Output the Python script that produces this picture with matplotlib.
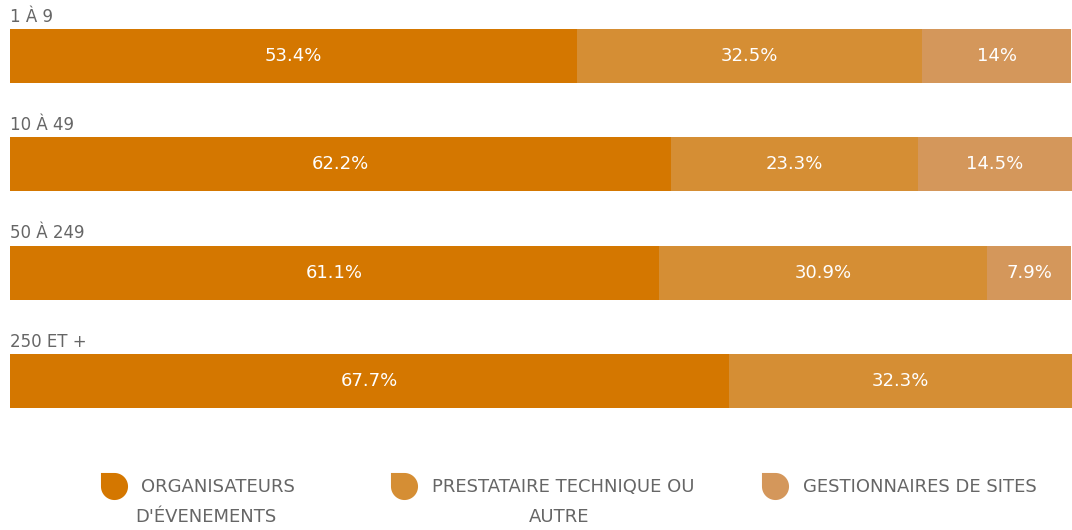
import numpy as np
import matplotlib
matplotlib.use("Agg")
import matplotlib.pyplot as plt
from matplotlib.path import Path

# Data
categories = ["1 À 9", "10 À 49", "50 À 249", "250 ET +"]
series_names = ["ORGANISATEURS\nD'ÉVENEMENTS", "PRESTATAIRE TECHNIQUE OU\nAUTRE", "GESTIONNAIRES DE SITES"]
organisateurs = [53.4, 62.2, 61.1, 67.7]
prestataires = [32.5, 23.3, 30.9, 32.3]
gestionnaires = [14.0, 14.5, 7.9, 0.0]
value_labels = [
    ["53.4%", "62.2%", "61.1%", "67.7%"],
    ["32.5%", "23.3%", "30.9%", "32.3%"],
    ["14%", "14.5%", "7.9%", ""],
]

colors = ["#D47700", "#D58E34", "#D4975B"]
text_gray = "#666666"

plt.rcParams["font.family"] = ["DejaVu Sans"]

W, H = 1072, 530
fig = plt.figure(figsize=(W / 100, H / 100), dpi=100)

# bar area: x 10..1072 px, y 29..408 px
ax = fig.add_axes([10 / W, (H - 408) / H, 1062 / W, 379 / H])
ax.set_xlim(0, 100)
ax.set_ylim(3.25, -0.25)
ax.axis("off")

y = np.arange(len(categories))
series = [organisateurs, prestataires, gestionnaires]
left = np.zeros(len(categories))
for s, vals in enumerate(series):
    vals = np.array(vals)
    ax.barh(y, vals, left=left, height=0.5, color=colors[s], linewidth=0)
    for i, v in enumerate(vals):
        if v > 0:
            ax.text(left[i] + v / 2, y[i], value_labels[s][i], ha="center", va="center",
                    color="white", fontsize=13)
    left += vals

for i, cat in enumerate(categories):
    ax.text(0, y[i] - 0.28, cat, ha="left", va="bottom", color=text_gray,
            fontsize=12, clip_on=False)

# Legend drawn in pixel coordinates
lax = fig.add_axes([0, 0, 1, 1])
lax.set_xlim(0, W)
lax.set_ylim(H, 0)
lax.axis("off")

# leaf-shaped marker: square top-left corner, the rest rounded
t = np.linspace(np.pi / 2, -np.pi, 40)
verts = np.column_stack([np.cos(t), np.sin(t)])
verts = np.vstack([[-1, 1], verts, [-1, 1]])
codes = [Path.MOVETO] + [Path.LINETO] * (len(verts) - 2) + [Path.CLOSEPOLY]
leaf = Path(verts, codes)

marker_x = [114, 404, 775]
text_x = [141, 432, 803]
center_x = [206, 559, 911]
for k, name in enumerate(series_names):
    lax.scatter([marker_x[k]], [486], marker=leaf, s=380, color=colors[k], linewidths=0)
    lines = name.split("\n")
    lax.text(text_x[k], 487, lines[0], ha="left", va="center", color=text_gray, fontsize=13)
    if len(lines) > 1:
        lax.text(center_x[k], 517, lines[1], ha="center", va="center", color=text_gray, fontsize=13)

fig.savefig("out.png", dpi=100)
